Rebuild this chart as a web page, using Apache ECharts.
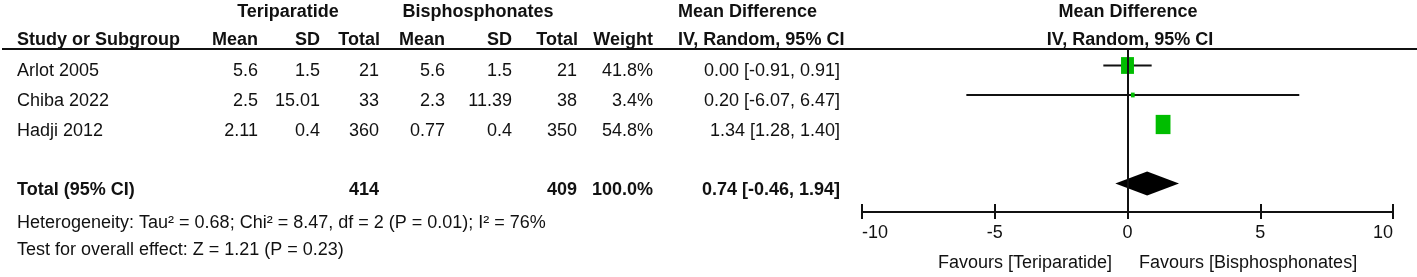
<!DOCTYPE html>
<html>
<head>
<meta charset="utf-8">
<script src="https://cdn.jsdelivr.net/npm/echarts@6/dist/echarts.min.js"></script>
<style>
html,body{margin:0;padding:0;background:#fff;}
#c{width:1417px;height:277px;}
</style>
</head>
<body>
<div id="c"></div>
<script>
// ---- data ----
const studies = ['Arlot 2005', 'Chiba 2022', 'Hadji 2012'];
const teriMean = ['5.6', '2.5', '2.11'];
const teriSD = ['1.5', '15.01', '0.4'];
const teriN = [21, 33, 360];
const bisMean = ['5.6', '2.3', '0.77'];
const bisSD = ['1.5', '11.39', '0.4'];
const bisN = [21, 38, 350];
const weight = [41.8, 3.4, 54.8];
const md = [0.00, 0.20, 1.34];
const ciLow = [-0.91, -6.07, 1.28];
const ciHigh = [0.91, 6.47, 1.40];
const totalTeriN = 414;
const totalBisN = 409;
const totalWeight = 100.0;
const totalMD = 0.74;
const totalLow = -0.46;
const totalHigh = 1.94;
const heterogeneity = 'Heterogeneity: Tau\u00b2 = 0.68; Chi\u00b2 = 8.47, df = 2 (P = 0.01); I\u00b2 = 76%';
const overallEffect = 'Test for overall effect: Z = 1.21 (P = 0.23)';
const xTicks = [-10, -5, 0, 5, 10];
const favoursLeft = 'Favours [Teriparatide]';
const favoursRight = 'Favours [Bisphosphonates]';

// ---- layout ----
const FONT = '"Liberation Sans", Arial, sans-serif';
const FS = 18;
const INK = '#111';
const GREEN = '#00bd00';
const totalRow = 4;
const textY = i => 71.5 + 29.6 * i;

function txt(t, x, y, align, bold) {
  return {
    type: 'text', x: x, y: y, silent: true,
    style: {
      text: String(t), fontSize: FS, fontFamily: FONT,
      fontWeight: bold ? 'bold' : 'normal', fill: INK,
      align: align, verticalAlign: 'middle'
    }
  };
}
const fmtCI = (m, l, h) => m.toFixed(2) + ' [' + l.toFixed(2) + ', ' + h.toFixed(2) + ']';

const g = [];
// header line
g.push({type: 'line', silent: true, shape: {x1: 2, y1: 49, x2: 1417, y2: 49}, style: {stroke: INK, lineWidth: 2}});
// header row 1
g.push(txt('Teriparatide', 288, 12, 'center', true));
g.push(txt('Bisphosphonates', 478, 12, 'center', true));
g.push(txt('Mean Difference', 678, 12, 'left', true));
g.push(txt('Mean Difference', 1128, 12, 'center', true));
// header row 2
const h2 = 40;
g.push(txt('Study or Subgroup', 17, h2, 'left', true));
g.push(txt('Mean', 258, h2, 'right', true));
g.push(txt('SD', 320, h2, 'right', true));
g.push(txt('Total', 380, h2, 'right', true));
g.push(txt('Mean', 445, h2, 'right', true));
g.push(txt('SD', 512, h2, 'right', true));
g.push(txt('Total', 578, h2, 'right', true));
g.push(txt('Weight', 653, h2, 'right', true));
g.push(txt('IV, Random, 95% CI', 678, h2, 'left', true));
g.push(txt('IV, Random, 95% CI', 1130, h2, 'center', true));
// study rows
studies.forEach((s, i) => {
  const y = textY(i);
  g.push(txt(s, 17, y, 'left', false));
  g.push(txt(teriMean[i], 258, y, 'right', false));
  g.push(txt(teriSD[i], 320, y, 'right', false));
  g.push(txt(teriN[i], 379, y, 'right', false));
  g.push(txt(bisMean[i], 445, y, 'right', false));
  g.push(txt(bisSD[i], 512, y, 'right', false));
  g.push(txt(bisN[i], 577, y, 'right', false));
  g.push(txt(weight[i].toFixed(1) + '%', 653, y, 'right', false));
  g.push(txt(fmtCI(md[i], ciLow[i], ciHigh[i]), 840, y, 'right', false));
});
// total row
const ty = textY(totalRow);
g.push(txt('Total (95% CI)', 17, ty, 'left', true));
g.push(txt(totalTeriN, 379, ty, 'right', true));
g.push(txt(totalBisN, 577, ty, 'right', true));
g.push(txt(totalWeight.toFixed(1) + '%', 653, ty, 'right', true));
g.push(txt(fmtCI(totalMD, totalLow, totalHigh), 840, ty, 'right', true));
g.push(txt(heterogeneity, 17, 223.5, 'left', false));
g.push(txt(overallEffect, 17, 250, 'left', false));
// favours
g.push(txt(favoursLeft, 1112, 263, 'right', false));
g.push(txt(favoursRight, 1139, 263, 'left', false));

const chart = echarts.init(document.getElementById('c'), null, {renderer: 'canvas'});
const option = {
  animation: false,
  backgroundColor: '#fff',
  grid: {left: 862, width: 531, top: 49, height: 163},
  xAxis: [{
    type: 'value', min: xTicks[0], max: xTicks[xTicks.length - 1], interval: 5,
    position: 'bottom',
    splitLine: {show: false},
    axisLine: {show: true, onZero: false, lineStyle: {color: INK, width: 2}},
    axisTick: {show: true, length: 7, lineStyle: {color: INK, width: 2}},
    axisLabel: {fontSize: FS, fontFamily: FONT, color: INK, margin: 12,
      alignMinLabel: 'left', alignMaxLabel: 'right', showMinLabel: true, showMaxLabel: true}
  }, {
    type: 'value', min: xTicks[0], max: xTicks[xTicks.length - 1], interval: 5,
    position: 'bottom', gridIndex: 0, offset: 0,
    splitLine: {show: false},
    axisLine: {show: false, onZero: false},
    axisTick: {show: true, inside: true, length: 8, lineStyle: {color: INK, width: 2}},
    axisLabel: {show: false}
  }],
  yAxis: {type: 'value', inverse: true, min: -0.559, max: 4.966, show: false},
  graphic: g,
  series: [
    {
      type: 'custom',
      encode: {x: [0, 1], y: 2},
      data: studies.map((s, i) => [ciLow[i], ciHigh[i], i]),
      renderItem: function (params, api) {
        const p1 = api.coord([api.value(0), api.value(2)]);
        const p2 = api.coord([api.value(1), api.value(2)]);
        return {type: 'line', shape: {x1: p1[0], y1: p1[1], x2: p2[0], y2: p2[1]},
          style: {stroke: INK, lineWidth: 2}};
      },
      markLine: {
        silent: true, symbol: 'none', animation: false,
        label: {show: false},
        lineStyle: {color: INK, width: 2, type: 'solid'},
        data: [{xAxis: 0}]
      },
      z: 2
    },
    {
      type: 'scatter',
      symbol: 'rect',
      data: studies.map((s, i) => [md[i], i, weight[i]]),
      symbolSize: function (v) {
        const s = Math.sqrt(v[2]);
        return [s * 2.0, s * 2.6];
      },
      itemStyle: {color: GREEN, opacity: 1},
      z: 3
    },
    {
      type: 'custom',
      encode: {x: [0, 1, 2], y: 3},
      data: [[totalMD, totalLow, totalHigh, totalRow]],
      renderItem: function (params, api) {
        const c = api.coord([api.value(0), api.value(3)]);
        const l = api.coord([api.value(1), api.value(3)]);
        const r = api.coord([api.value(2), api.value(3)]);
        const hh = 12;
        return {type: 'polygon', shape: {points: [[l[0], c[1]], [c[0], c[1] - hh], [r[0], c[1]], [c[0], c[1] + hh]]},
          style: {fill: '#000'}};
      },
      z: 3
    }
  ]
};
chart.setOption(option);
</script>
</body>
</html>
